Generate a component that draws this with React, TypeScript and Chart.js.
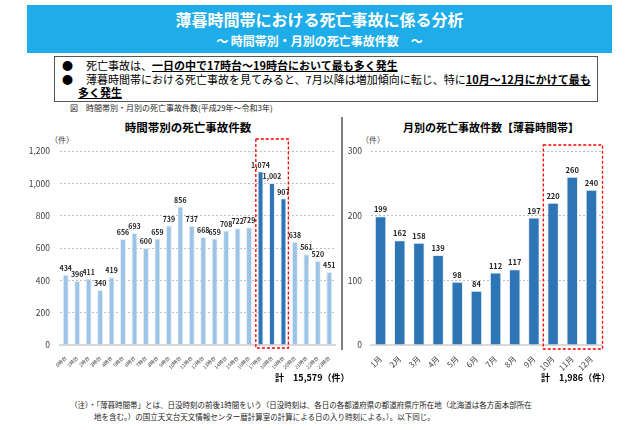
import React, { useEffect, useRef } from "react";
import { Chart, registerables } from "chart.js";

Chart.register(...registerables);

const hourLabels = [
  "0時台", "1時台", "2時台", "3時台", "4時台", "5時台", "6時台", "7時台",
  "8時台", "9時台", "10時台", "11時台", "12時台", "13時台", "14時台", "15時台",
  "16時台", "17時台", "18時台", "19時台", "20時台", "21時台", "22時台", "23時台",
];
const hourCounts = [
  434, 396, 411, 340, 419, 656, 693, 600, 659, 739, 856, 737,
  668, 659, 708, 722, 729, 1074, 1002, 907, 638, 561, 520, 451,
];
const highlightHours = [17, 18, 19];
const hourTicks = [0, 200, 400, 600, 800, 1000, 1200];

const monthLabels = ["1月", "2月", "3月", "4月", "5月", "6月", "7月", "8月", "9月", "10月", "11月", "12月"];
const monthCounts = [199, 162, 158, 139, 98, 84, 112, 117, 197, 220, 260, 240];
const highlightMonths = [9, 10, 11];
const monthTicks = [0, 100, 200, 300];

const hourTotal = "15,579";
const monthTotal = "1,986";

const FONT = '"Noto Sans CJK JP", "Noto Sans", sans-serif';
const LIGHT = "#9DC3E6";
const DARK = "#2E75B6";

const valueLabelPlugin = {
  id: "valueLabels",
  afterDatasetsDraw(chart: any) {
    const o = chart.options.plugins.valueLabels;
    if (!o) return;
    const ctx = chart.ctx;
    const meta = chart.getDatasetMeta(0);
    const data = chart.data.datasets[0].data as number[];
    ctx.save();
    ctx.font = `bold ${o.size}px ${FONT}`;
    ctx.fillStyle = "#262626";
    ctx.textAlign = "center";
    ctx.textBaseline = "bottom";
    meta.data.forEach((bar: any, i: number) => {
      ctx.fillText(Number(data[i]).toLocaleString("en-US"), bar.x, bar.y - o.gap);
    });
    ctx.restore();
  },
};

const highlightBoxPlugin = {
  id: "highlightBox",
  afterDraw(chart: any) {
    const o = chart.options.plugins.highlightBox;
    if (!o) return;
    const ctx = chart.ctx;
    const x = chart.scales.x;
    const step = x.getPixelForValue(1) - x.getPixelForValue(0);
    const left = x.getPixelForValue(o.from) - o.padL * step;
    const right = x.getPixelForValue(o.to) + o.padR * step;
    const top = chart.chartArea.top - o.above;
    const bottom = chart.chartArea.bottom + o.below;
    ctx.save();
    ctx.strokeStyle = "#FF0000";
    ctx.lineWidth = 1.3;
    ctx.setLineDash([3, 2]);
    ctx.strokeRect(left, top, right - left, bottom - top);
    ctx.restore();
  },
};

type BarChartProps = {
  labels: string[];
  values: number[];
  highlight: number[];
  allDark: boolean;
  ticks: number[];
  width: number;
  height: number;
  left: number;
  top: number;
  yAxisWidth: number;
  yPad: number;
  padding: { left: number; right: number; top: number; bottom: number };
  xAxisHeight: number;
  xFont: number;
  xPad: number;
  barPct: number;
  labelSize: number;
  box: any;
};

function BarChart(p: BarChartProps) {
  const ref = useRef<HTMLCanvasElement | null>(null);
  useEffect(() => {
    if (!ref.current) return;
    const colors = p.values.map((_, i) => (p.allDark || p.highlight.includes(i) ? DARK : LIGHT));
    const chart = new Chart(ref.current, {
      type: "bar",
      data: {
        labels: p.labels,
        datasets: [
          {
            data: p.values,
            backgroundColor: colors,
            borderColor: "rgba(222,235,247,0.9)",
            borderWidth: 1,
            barPercentage: p.barPct,
            categoryPercentage: 1,
          },
        ],
      },
      options: {
        responsive: false,
        animation: false,
        layout: { padding: p.padding },
        plugins: {
          legend: { display: false },
          tooltip: { enabled: false },
          title: { display: false },
          valueLabels: { size: p.labelSize, gap: 3 },
          highlightBox: p.box,
        } as any,
        scales: {
          x: {
            grid: { display: false },
            border: { display: true, color: "#D9D9D9", width: 2 },
            ticks: {
              minRotation: 45,
              maxRotation: 45,
              autoSkip: false,
              padding: p.xPad,
              color: "#404040",
              font: { family: FONT, size: p.xFont },
            },
            afterFit: (s: any) => {
              s.height = p.xAxisHeight;
            },
          },
          y: {
            min: p.ticks[0],
            max: p.ticks[p.ticks.length - 1],
            afterBuildTicks: (s: any) => {
              s.ticks = p.ticks.map((v) => ({ value: v }));
            },
            grid: {
              color: "#BFBFBF",
              drawTicks: false,
              lineWidth: 1,
            },
            border: { display: false, dash: [2, 2] },
            ticks: {
              padding: p.yPad,
              color: "#404040",
              font: { family: FONT, size: 8.5 },
              callback: (v: any) => Number(v).toLocaleString("en-US"),
            },
            afterFit: (s: any) => {
              s.width = p.yAxisWidth;
            },
          },
        },
      },
      plugins: [valueLabelPlugin, highlightBoxPlugin],
    });
    return () => chart.destroy();
  }, []);
  return (
    <canvas
      ref={ref}
      width={p.width}
      height={p.height}
      style={{ position: "absolute", left: p.left, top: p.top, width: p.width, height: p.height }}
    />
  );
}

const abs = (s: React.CSSProperties): React.CSSProperties => ({ position: "absolute", whiteSpace: "nowrap", ...s });

export default function App() {
  return (
    <div
      style={{
        position: "absolute",
        left: 0,
        top: 0,
        width: 640,
        height: 430,
        overflow: "hidden",
        background: "#FFFFFF",
        fontFamily: FONT,
        color: "#000",
      }}
    >
      <div style={abs({ left: 27, top: 5, width: 585, height: 48, background: "#1EADE8" })} />
      <div style={abs({ left: 27, top: 9, width: 585, textAlign: "center", color: "#FFF", fontWeight: 700, fontSize: 16, lineHeight: "20px" })}>
        薄暮時間帯における死亡事故に係る分析
      </div>
      <div style={abs({ left: 27, top: 33, width: 585, textAlign: "center", color: "#FFF", fontWeight: 700, fontSize: 12, lineHeight: "16px" })}>
        ～ 時間帯別・月別の死亡事故件数　～
      </div>

      <div style={abs({ left: 54, top: 56, width: 542, height: 44, border: "1px solid #555" })} />
      <div style={abs({ left: 62, top: 58, fontSize: 11, lineHeight: "14px" })}>●</div>
      <div style={abs({ left: 86, top: 58, fontSize: 11, lineHeight: "14px" })}>
        死亡事故は、<span style={{ fontWeight: 700, textDecoration: "underline" }}>一日の中で17時台～19時台において最も多く発生</span>
      </div>
      <div style={abs({ left: 62, top: 72, fontSize: 11, lineHeight: "14px" })}>●</div>
      <div style={abs({ left: 86, top: 72, fontSize: 11, lineHeight: "14px" })}>
        薄暮時間帯における死亡事故を見てみると、7月以降は増加傾向に転じ、特に<span style={{ fontWeight: 700, textDecoration: "underline" }}>10月～12月にかけて最も</span>
      </div>
      <div style={abs({ left: 78, top: 85, fontSize: 11, lineHeight: "14px", fontWeight: 700, textDecoration: "underline" })}>
        多く発生
      </div>

      <div style={abs({ left: 70, top: 103, fontSize: 8, lineHeight: "10px", color: "#222" })}>
        図　時間帯別・月別の死亡事故件数(平成29年～令和3年)
      </div>

      <div style={abs({ left: 88, top: 119, width: 200, textAlign: "center", fontSize: 11.5, fontWeight: 700, lineHeight: "16px" })}>
        時間帯別の死亡事故件数
      </div>
      <div style={abs({ left: 391, top: 119, width: 200, textAlign: "center", fontSize: 11, fontWeight: 700, lineHeight: "16px" })}>
        月別の死亡事故件数【薄暮時間帯】
      </div>
      <div style={abs({ left: 50, top: 135, fontSize: 8, lineHeight: "10px", color: "#404040" })}>（件）</div>
      <div style={abs({ left: 361, top: 135, fontSize: 8, lineHeight: "10px", color: "#404040" })}>（件）</div>

      <div style={abs({ left: 341, top: 117, width: 2, height: 233, background: "#7F7F7F" })} />

      <BarChart
        labels={hourLabels}
        values={hourCounts}
        highlight={highlightHours}
        allDark={false}
        ticks={hourTicks}
        width={340}
        height={280}
        left={0}
        top={110}
        yAxisWidth={60}
        yPad={10}
        padding={{ left: 0, right: 5, top: 41, bottom: 15 }}
        xAxisHeight={30}
        xFont={5}
        xPad={2}
        barPct={0.52}
        labelSize={7}
        box={{ from: 17, to: 19, padL: 0.41, padR: 0.43, above: 12, below: 3 }}
      />
      <BarChart
        labels={monthLabels}
        values={monthCounts}
        highlight={highlightMonths}
        allDark={true}
        ticks={monthTicks}
        width={298}
        height={280}
        left={342}
        top={110}
        yAxisWidth={29}
        yPad={9}
        padding={{ left: 0, right: 39, top: 41, bottom: 15 }}
        xAxisHeight={30}
        xFont={8}
        xPad={1}
        barPct={0.6}
        labelSize={7.5}
        box={{ from: 9, to: 11, padL: 0.51, padR: 0.58, above: 6, below: 4 }}
      />

      <div style={abs({ left: 275, top: 372, fontSize: 9, fontWeight: 700, lineHeight: "12px" })}>計　{hourTotal}（件）</div>
      <div style={abs({ left: 541, top: 372, fontSize: 9, fontWeight: 700, lineHeight: "12px" })}>計　{monthTotal}（件）</div>

      <div style={abs({ left: 70, top: 399, fontSize: 7.5, lineHeight: "12px", color: "#222" })}>
        （注）・「薄暮時間帯」とは、日没時刻の前後1時間をいう（日没時刻は、各日の各都道府県の都道府県庁所在地（北海道は各方面本部所在
      </div>
      <div style={abs({ left: 94, top: 411, fontSize: 7.5, lineHeight: "12px", color: "#222" })}>
        地を含む。）の国立天文台天文情報センター暦計算室の計算による日の入り時刻による。）。以下同じ。
      </div>
    </div>
  );
}
